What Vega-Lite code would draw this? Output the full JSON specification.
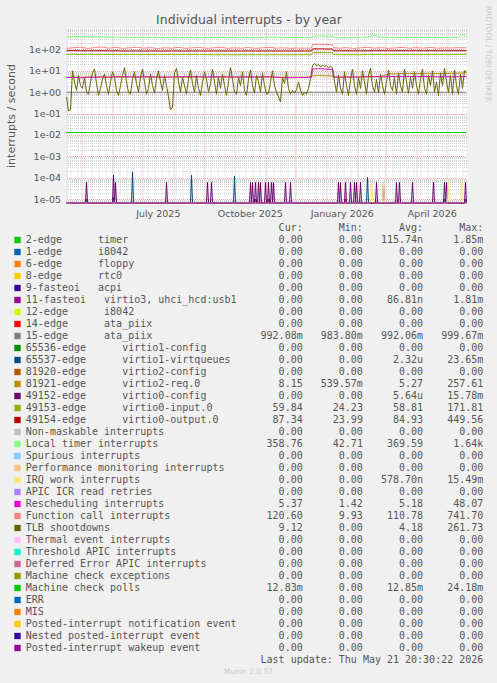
{
"$schema": "https://vega.github.io/schema/vega-lite/v6.json",
"background": "#f0f0f0",
"padding": {"left": 5.5, "top": 5, "right": 0, "bottom": 0},
"config": {"view": {"stroke": null}},
"spacing": 25,
"bounds": "flush",
"datasets": {
"tlb": [
{"t":"2025-04-16","v":0.6},{"t":"2025-04-18","v":0.13},{"t":"2025-04-20","v":0.15},{"t":"2025-04-22","v":10},{"t":"2025-04-24","v":3},{"t":"2025-04-26","v":1.2},{"t":"2025-04-28","v":6},{"t":"2025-04-30","v":2},
{"t":"2025-05-02","v":1.5},{"t":"2025-05-04","v":5},{"t":"2025-05-06","v":1},{"t":"2025-05-08","v":0.8},{"t":"2025-05-10","v":3},{"t":"2025-05-12","v":8},{"t":"2025-05-14","v":12},{"t":"2025-05-16","v":2.5},{"t":"2025-05-18","v":0.7},{"t":"2025-05-20","v":1.5},{"t":"2025-05-22","v":4},{"t":"2025-05-24","v":7},{"t":"2025-05-26","v":2},{"t":"2025-05-28","v":0.8},{"t":"2025-05-30","v":3},
{"t":"2025-06-01","v":9},{"t":"2025-06-03","v":5},{"t":"2025-06-05","v":1.2},{"t":"2025-06-07","v":0.7},{"t":"2025-06-09","v":2},{"t":"2025-06-11","v":6},{"t":"2025-06-13","v":14},{"t":"2025-06-15","v":3},{"t":"2025-06-17","v":1},{"t":"2025-06-19","v":0.8},{"t":"2025-06-21","v":4},{"t":"2025-06-23","v":9},{"t":"2025-06-25","v":2.5},{"t":"2025-06-27","v":1},{"t":"2025-06-29","v":5},
{"t":"2025-07-01","v":12},{"t":"2025-07-03","v":3},{"t":"2025-07-05","v":0.8},{"t":"2025-07-07","v":1.5},{"t":"2025-07-09","v":7},{"t":"2025-07-11","v":2},{"t":"2025-07-13","v":0.9},{"t":"2025-07-15","v":4},{"t":"2025-07-17","v":10},{"t":"2025-07-19","v":3},{"t":"2025-07-21","v":1.2},{"t":"2025-07-23","v":6},{"t":"2025-07-25","v":2},{"t":"2025-07-27","v":0.6},{"t":"2025-07-29","v":0.15},{"t":"2025-07-31","v":0.2},
{"t":"2025-08-02","v":8},{"t":"2025-08-04","v":13},{"t":"2025-08-06","v":3},{"t":"2025-08-08","v":1},{"t":"2025-08-10","v":5},{"t":"2025-08-12","v":2},{"t":"2025-08-14","v":0.8},{"t":"2025-08-16","v":4},{"t":"2025-08-18","v":11},{"t":"2025-08-20","v":2.5},{"t":"2025-08-22","v":1},{"t":"2025-08-24","v":6},{"t":"2025-08-26","v":1.5},{"t":"2025-08-28","v":0.7},{"t":"2025-08-30","v":3},
{"t":"2025-09-01","v":9},{"t":"2025-09-03","v":4},{"t":"2025-09-05","v":1},{"t":"2025-09-07","v":2.5},{"t":"2025-09-09","v":12},{"t":"2025-09-11","v":3},{"t":"2025-09-13","v":0.8},{"t":"2025-09-15","v":5},{"t":"2025-09-17","v":1.5},{"t":"2025-09-19","v":7},{"t":"2025-09-21","v":2},{"t":"2025-09-23","v":0.7},{"t":"2025-09-25","v":3},{"t":"2025-09-27","v":14},{"t":"2025-09-29","v":4},
{"t":"2025-10-01","v":1},{"t":"2025-10-03","v":0.8},{"t":"2025-10-05","v":5},{"t":"2025-10-07","v":2},{"t":"2025-10-09","v":9},{"t":"2025-10-11","v":1.2},{"t":"2025-10-13","v":0.7},{"t":"2025-10-15","v":4},{"t":"2025-10-17","v":11},{"t":"2025-10-19","v":2},{"t":"2025-10-21","v":0.9},{"t":"2025-10-23","v":6},{"t":"2025-10-25","v":3},{"t":"2025-10-27","v":1},{"t":"2025-10-29","v":8},{"t":"2025-10-31","v":2},
{"t":"2025-11-02","v":0.8},{"t":"2025-11-04","v":0.9},{"t":"2025-11-06","v":3},{"t":"2025-11-08","v":10},{"t":"2025-11-10","v":2},{"t":"2025-11-12","v":1},{"t":"2025-11-14","v":0.6},{"t":"2025-11-16","v":0.35},{"t":"2025-11-18","v":5},{"t":"2025-11-20","v":2.5},{"t":"2025-11-22","v":9},{"t":"2025-11-24","v":1.5},{"t":"2025-11-26","v":0.8},{"t":"2025-11-28","v":1.2},{"t":"2025-11-30","v":0.9},
{"t":"2025-12-02","v":1.3},{"t":"2025-12-04","v":3},{"t":"2025-12-06","v":1.2},{"t":"2025-12-08","v":0.7},{"t":"2025-12-10","v":1},{"t":"2025-12-12","v":0.8},{"t":"2025-12-14","v":1.5},{"t":"2025-12-16","v":4},{"t":"2025-12-18","v":18},{"t":"2025-12-20","v":22},{"t":"2025-12-22","v":17},{"t":"2025-12-24","v":20},{"t":"2025-12-26","v":15},{"t":"2025-12-28","v":18},{"t":"2025-12-30","v":16},
{"t":"2026-01-01","v":17},{"t":"2026-01-03","v":14},{"t":"2026-01-05","v":16},{"t":"2026-01-07","v":14},{"t":"2026-01-09","v":3},{"t":"2026-01-11","v":1},{"t":"2026-01-13","v":6},{"t":"2026-01-15","v":1.5},{"t":"2026-01-17","v":0.8},{"t":"2026-01-19","v":9},{"t":"2026-01-21","v":2},{"t":"2026-01-23","v":0.7},{"t":"2026-01-25","v":4},{"t":"2026-01-27","v":12},{"t":"2026-01-29","v":2},{"t":"2026-01-31","v":0.8},
{"t":"2026-02-02","v":5},{"t":"2026-02-04","v":1.5},{"t":"2026-02-06","v":10},{"t":"2026-02-08","v":3},{"t":"2026-02-10","v":0.8},{"t":"2026-02-12","v":6},{"t":"2026-02-14","v":13},{"t":"2026-02-16","v":2},{"t":"2026-02-18","v":1},{"t":"2026-02-20","v":4},{"t":"2026-02-22","v":0.9},{"t":"2026-02-24","v":7},{"t":"2026-02-26","v":2},{"t":"2026-02-28","v":0.8},
{"t":"2026-03-02","v":3},{"t":"2026-03-04","v":11},{"t":"2026-03-06","v":2},{"t":"2026-03-08","v":1.2},{"t":"2026-03-10","v":5},{"t":"2026-03-12","v":0.8},{"t":"2026-03-14","v":8},{"t":"2026-03-16","v":2},{"t":"2026-03-18","v":1},{"t":"2026-03-20","v":12},{"t":"2026-03-22","v":3},{"t":"2026-03-24","v":0.9},{"t":"2026-03-26","v":5},{"t":"2026-03-28","v":1.5},{"t":"2026-03-30","v":9},
{"t":"2026-04-01","v":2},{"t":"2026-04-03","v":0.8},{"t":"2026-04-05","v":4},{"t":"2026-04-07","v":12},{"t":"2026-04-09","v":1.5},{"t":"2026-04-11","v":0.8},{"t":"2026-04-13","v":6},{"t":"2026-04-15","v":2},{"t":"2026-04-17","v":10},{"t":"2026-04-19","v":1},{"t":"2026-04-21","v":3},{"t":"2026-04-23","v":0.7},{"t":"2026-04-25","v":8},{"t":"2026-04-27","v":2},{"t":"2026-04-29","v":13},
{"t":"2026-05-01","v":3},{"t":"2026-05-03","v":1},{"t":"2026-05-05","v":6},{"t":"2026-05-07","v":0.8},{"t":"2026-05-09","v":11},{"t":"2026-05-11","v":2},{"t":"2026-05-13","v":0.8},{"t":"2026-05-15","v":7},{"t":"2026-05-17","v":1.5},{"t":"2026-05-19","v":10},{"t":"2026-05-21","v":9}
],
"sm": [
{"t":"2025-04-16","loc":395,"cal":112,"out":86,"inp":58,"res":4.8,"req":5.0},
{"t":"2025-04-23","loc":398,"cal":120,"out":87,"inp":59,"res":4.9,"req":5.0},
{"t":"2025-04-30","loc":392,"cal":126,"out":86,"inp":58,"res":4.7,"req":5.0},
{"t":"2025-05-07","loc":396,"cal":110,"out":85,"inp":59,"res":4.9,"req":5.1},
{"t":"2025-05-14","loc":390,"cal":122,"out":86,"inp":58,"res":5.0,"req":5.0},
{"t":"2025-05-21","loc":394,"cal":130,"out":86,"inp":58,"res":5.1,"req":5.1},
{"t":"2025-05-28","loc":392,"cal":114,"out":85,"inp":58,"res":5.0,"req":5.0},
{"t":"2025-06-04","loc":372,"cal":124,"out":85,"inp":57,"res":5.2,"req":5.1},
{"t":"2025-06-11","loc":368,"cal":112,"out":84,"inp":57,"res":5.3,"req":5.0},
{"t":"2025-06-18","loc":366,"cal":118,"out":84,"inp":57,"res":5.2,"req":5.0},
{"t":"2025-06-25","loc":364,"cal":126,"out":84,"inp":57,"res":5.1,"req":5.1},
{"t":"2025-07-02","loc":368,"cal":114,"out":84,"inp":57,"res":5.3,"req":5.0},
{"t":"2025-07-09","loc":362,"cal":120,"out":84,"inp":57,"res":5.2,"req":5.0},
{"t":"2025-07-16","loc":366,"cal":110,"out":84,"inp":57,"res":5.1,"req":5.1},
{"t":"2025-07-23","loc":364,"cal":118,"out":84,"inp":57,"res":5.0,"req":5.0},
{"t":"2025-07-30","loc":362,"cal":114,"out":84,"inp":57,"res":5.1,"req":5.0},
{"t":"2025-08-06","loc":365,"cal":124,"out":84,"inp":57,"res":5.2,"req":5.1},
{"t":"2025-08-13","loc":360,"cal":112,"out":84,"inp":57,"res":5.3,"req":5.0},
{"t":"2025-08-20","loc":362,"cal":118,"out":84,"inp":57,"res":5.3,"req":5.0},
{"t":"2025-08-27","loc":364,"cal":122,"out":84,"inp":57,"res":5.2,"req":5.1},
{"t":"2025-09-03","loc":360,"cal":112,"out":84,"inp":57,"res":5.1,"req":5.0},
{"t":"2025-09-10","loc":358,"cal":118,"out":84,"inp":56,"res":5.2,"req":5.0},
{"t":"2025-09-17","loc":362,"cal":126,"out":84,"inp":56,"res":5.3,"req":5.1},
{"t":"2025-09-24","loc":360,"cal":112,"out":84,"inp":56,"res":5.2,"req":5.0},
{"t":"2025-10-01","loc":365,"cal":118,"out":84,"inp":56,"res":5.1,"req":5.0},
{"t":"2025-10-08","loc":360,"cal":114,"out":84,"inp":56,"res":5.2,"req":5.1},
{"t":"2025-10-15","loc":362,"cal":122,"out":84,"inp":56,"res":5.2,"req":5.0},
{"t":"2025-10-22","loc":365,"cal":112,"out":84,"inp":56,"res":5.1,"req":5.0},
{"t":"2025-10-29","loc":360,"cal":118,"out":84,"inp":56,"res":5.2,"req":5.0},
{"t":"2025-11-05","loc":375,"cal":124,"out":84,"inp":56,"res":5.3,"req":5.1},
{"t":"2025-11-12","loc":368,"cal":114,"out":84,"inp":56,"res":5.0,"req":5.0},
{"t":"2025-11-19","loc":362,"cal":118,"out":84,"inp":56,"res":4.8,"req":5.0},
{"t":"2025-11-26","loc":360,"cal":112,"out":84,"inp":56,"res":4.7,"req":5.0},
{"t":"2025-12-03","loc":358,"cal":116,"out":84,"inp":56,"res":4.8,"req":5.0},
{"t":"2025-12-10","loc":360,"cal":114,"out":84,"inp":56,"res":4.8,"req":5.0},
{"t":"2025-12-17","loc":362,"cal":116,"out":84,"inp":56,"res":5.0,"req":5.1},
{"t":"2025-12-18","loc":420,"cal":165,"out":105,"inp":70,"res":12,"req":5.8},
{"t":"2025-12-24","loc":425,"cal":172,"out":106,"inp":71,"res":12.5,"req":5.9},
{"t":"2025-12-31","loc":420,"cal":168,"out":105,"inp":70,"res":12,"req":5.8},
{"t":"2026-01-07","loc":418,"cal":165,"out":104,"inp":70,"res":11.5,"req":5.7},
{"t":"2026-01-08","loc":355,"cal":120,"out":86,"inp":57,"res":5.2,"req":5.0},
{"t":"2026-01-14","loc":350,"cal":114,"out":85,"inp":56,"res":5.0,"req":5.0},
{"t":"2026-01-21","loc":352,"cal":120,"out":85,"inp":56,"res":5.1,"req":5.0},
{"t":"2026-01-28","loc":355,"cal":112,"out":85,"inp":56,"res":5.0,"req":5.0},
{"t":"2026-02-04","loc":360,"cal":118,"out":85,"inp":56,"res":5.2,"req":5.1},
{"t":"2026-02-11","loc":380,"cal":124,"out":85,"inp":57,"res":5.3,"req":5.2},
{"t":"2026-02-18","loc":460,"cal":114,"out":86,"inp":57,"res":5.3,"req":5.3},
{"t":"2026-02-25","loc":370,"cal":120,"out":86,"inp":57,"res":5.2,"req":5.5},
{"t":"2026-03-04","loc":365,"cal":112,"out":86,"inp":57,"res":5.3,"req":7.0},
{"t":"2026-03-11","loc":360,"cal":118,"out":86,"inp":57,"res":5.4,"req":7.2},
{"t":"2026-03-18","loc":362,"cal":124,"out":86,"inp":57,"res":5.3,"req":7.4},
{"t":"2026-03-25","loc":360,"cal":114,"out":86,"inp":57,"res":5.4,"req":7.5},
{"t":"2026-04-01","loc":360,"cal":120,"out":86,"inp":57,"res":5.3,"req":7.3},
{"t":"2026-04-08","loc":362,"cal":115,"out":86,"inp":57,"res":5.4,"req":7.5},
{"t":"2026-04-15","loc":360,"cal":122,"out":86,"inp":57,"res":5.3,"req":7.6},
{"t":"2026-04-22","loc":358,"cal":114,"out":86,"inp":57,"res":5.2,"req":7.4},
{"t":"2026-04-29","loc":362,"cal":118,"out":86,"inp":57,"res":5.3,"req":7.5},
{"t":"2026-05-06","loc":365,"cal":116,"out":86,"inp":57,"res":5.2,"req":7.6},
{"t":"2026-05-13","loc":372,"cal":120,"out":86,"inp":58,"res":5.3,"req":7.8},
{"t":"2026-05-18","loc":500,"cal":118,"out":86,"inp":58,"res":5.3,"req":7.9},
{"t":"2026-05-21","loc":359,"cal":121,"out":87,"inp":60,"res":5.4,"req":8.15}
],
"flat": [
{"t":"2025-04-16","ata":0.992,"mcp":0.0128},
{"t":"2026-05-21","ata":0.992,"mcp":0.0128}
],
"spk": [
{"s":"cfg0","t":"2025-04-16","v":1e-6},{"s":"cfg0","t":"2025-05-05","v":1e-6},{"s":"cfg0","t":"2025-05-06","v":6.2e-5},{"s":"cfg0","t":"2025-05-07","v":1e-6},
{"s":"cfg0","t":"2025-06-01","v":1e-6},{"s":"cfg0","t":"2025-06-02","v":1.3e-4},{"s":"cfg0","t":"2025-06-03","v":1e-6},{"s":"cfg0","t":"2025-06-04","v":6e-5},{"s":"cfg0","t":"2025-06-05","v":1e-6},
{"s":"cfg0","t":"2025-07-24","v":1e-6},{"s":"cfg0","t":"2025-07-25","v":6e-5},{"s":"cfg0","t":"2025-07-26","v":1e-6},
{"s":"cfg0","t":"2025-09-03","v":1e-6},{"s":"cfg0","t":"2025-09-04","v":6e-5},{"s":"cfg0","t":"2025-09-05","v":1e-6},{"s":"cfg0","t":"2025-09-07","v":1e-6},{"s":"cfg0","t":"2025-09-08","v":6e-5},{"s":"cfg0","t":"2025-09-09","v":1e-6},
{"s":"cfg0","t":"2025-10-16","v":1e-6},{"s":"cfg0","t":"2025-10-17","v":6e-5},{"s":"cfg0","t":"2025-10-18","v":1e-6},{"s":"cfg0","t":"2025-10-19","v":6e-5},{"s":"cfg0","t":"2025-10-20","v":1e-6},{"s":"cfg0","t":"2025-10-21","v":1e-6},{"s":"cfg0","t":"2025-10-22","v":6e-5},{"s":"cfg0","t":"2025-10-23","v":1e-6},{"s":"cfg0","t":"2025-10-24","v":1e-6},{"s":"cfg0","t":"2025-10-25","v":6e-5},{"s":"cfg0","t":"2025-10-26","v":1e-6},{"s":"cfg0","t":"2025-10-27","v":6e-5},{"s":"cfg0","t":"2025-10-28","v":1e-6},
{"s":"cfg0","t":"2025-10-31","v":1e-6},{"s":"cfg0","t":"2025-11-01","v":6e-5},{"s":"cfg0","t":"2025-11-02","v":1e-6},{"s":"cfg0","t":"2025-11-03","v":1e-6},{"s":"cfg0","t":"2025-11-04","v":6e-5},{"s":"cfg0","t":"2025-11-05","v":1e-6},{"s":"cfg0","t":"2025-11-06","v":1e-6},{"s":"cfg0","t":"2025-11-07","v":6e-5},{"s":"cfg0","t":"2025-11-08","v":1e-6},{"s":"cfg0","t":"2025-11-09","v":6e-5},{"s":"cfg0","t":"2025-11-10","v":1e-6},
{"s":"cfg0","t":"2025-11-20","v":1e-6},{"s":"cfg0","t":"2025-11-21","v":6e-5},{"s":"cfg0","t":"2025-11-22","v":1e-6},{"s":"cfg0","t":"2025-11-25","v":1e-6},{"s":"cfg0","t":"2025-11-26","v":6e-5},{"s":"cfg0","t":"2025-11-27","v":1e-6},
{"s":"cfg0","t":"2026-01-12","v":1e-6},{"s":"cfg0","t":"2026-01-13","v":6e-5},{"s":"cfg0","t":"2026-01-14","v":1e-6},{"s":"cfg0","t":"2026-01-15","v":6e-5},{"s":"cfg0","t":"2026-01-16","v":1e-6},{"s":"cfg0","t":"2026-01-19","v":1e-6},{"s":"cfg0","t":"2026-01-20","v":6e-5},{"s":"cfg0","t":"2026-01-21","v":1e-6},{"s":"cfg0","t":"2026-01-24","v":1e-6},{"s":"cfg0","t":"2026-01-25","v":6e-5},{"s":"cfg0","t":"2026-01-26","v":1e-6},{"s":"cfg0","t":"2026-01-28","v":1e-6},{"s":"cfg0","t":"2026-01-29","v":6e-5},{"s":"cfg0","t":"2026-01-30","v":1e-6},{"s":"cfg0","t":"2026-01-31","v":6e-5},{"s":"cfg0","t":"2026-02-01","v":1e-6},
{"s":"cfg0","t":"2026-02-03","v":1e-6},{"s":"cfg0","t":"2026-02-04","v":6e-5},{"s":"cfg0","t":"2026-02-05","v":1e-6},{"s":"cfg0","t":"2026-02-19","v":1e-6},{"s":"cfg0","t":"2026-02-20","v":6e-5},{"s":"cfg0","t":"2026-02-21","v":1e-6},{"s":"cfg0","t":"2026-02-26","v":1e-6},{"s":"cfg0","t":"2026-02-27","v":6e-5},{"s":"cfg0","t":"2026-02-28","v":1e-6},
{"s":"cfg0","t":"2026-03-11","v":1e-6},{"s":"cfg0","t":"2026-03-12","v":6e-5},{"s":"cfg0","t":"2026-03-13","v":1e-6},{"s":"cfg0","t":"2026-03-14","v":1e-6},{"s":"cfg0","t":"2026-03-15","v":6e-5},{"s":"cfg0","t":"2026-03-16","v":1e-6},{"s":"cfg0","t":"2026-03-27","v":1e-6},{"s":"cfg0","t":"2026-03-28","v":6e-5},{"s":"cfg0","t":"2026-03-29","v":1e-6},
{"s":"cfg0","t":"2026-04-17","v":1e-6},{"s":"cfg0","t":"2026-04-18","v":6e-5},{"s":"cfg0","t":"2026-04-19","v":1e-6},{"s":"cfg0","t":"2026-04-28","v":1e-6},{"s":"cfg0","t":"2026-04-29","v":6e-5},{"s":"cfg0","t":"2026-04-30","v":1e-6},{"s":"cfg0","t":"2026-05-01","v":6e-5},{"s":"cfg0","t":"2026-05-02","v":1e-6},{"s":"cfg0","t":"2026-05-19","v":1e-6},{"s":"cfg0","t":"2026-05-20","v":6e-5},{"s":"cfg0","t":"2026-05-21","v":1e-6},
{"s":"vq1","t":"2025-04-16","v":1e-6},{"s":"vq1","t":"2025-05-05","v":1e-6},{"s":"vq1","t":"2025-05-06","v":1e-5},{"s":"vq1","t":"2025-05-07","v":1e-6},{"s":"vq1","t":"2025-06-01","v":1e-6},{"s":"vq1","t":"2025-06-02","v":1.2e-5},{"s":"vq1","t":"2025-06-03","v":1e-6},{"s":"vq1","t":"2025-06-20","v":1e-6},{"s":"vq1","t":"2025-06-21","v":1.85e-4},{"s":"vq1","t":"2025-06-22","v":1e-6},
{"s":"vq1","t":"2025-08-18","v":1e-6},{"s":"vq1","t":"2025-08-19","v":1.3e-4},{"s":"vq1","t":"2025-08-20","v":1e-6},{"s":"vq1","t":"2025-09-30","v":1e-6},{"s":"vq1","t":"2025-10-01","v":1.2e-4},{"s":"vq1","t":"2025-10-02","v":1e-6},{"s":"vq1","t":"2025-10-21","v":1e-6},{"s":"vq1","t":"2025-10-22","v":1e-5},{"s":"vq1","t":"2025-10-23","v":1e-6},{"s":"vq1","t":"2025-11-03","v":1e-6},{"s":"vq1","t":"2025-11-04","v":1e-5},{"s":"vq1","t":"2025-11-05","v":1e-6},
{"s":"vq1","t":"2026-01-19","v":1e-6},{"s":"vq1","t":"2026-01-20","v":1e-5},{"s":"vq1","t":"2026-01-21","v":1e-6},{"s":"vq1","t":"2026-02-10","v":1e-6},{"s":"vq1","t":"2026-02-11","v":1.05e-4},{"s":"vq1","t":"2026-02-12","v":1e-6},{"s":"vq1","t":"2026-04-28","v":1e-6},{"s":"vq1","t":"2026-04-29","v":1e-5},{"s":"vq1","t":"2026-04-30","v":1e-6},{"s":"vq1","t":"2026-05-19","v":1e-6},{"s":"vq1","t":"2026-05-20","v":1e-5},{"s":"vq1","t":"2026-05-21","v":1e-6},
{"s":"iwi","t":"2025-04-16","v":1e-6},{"s":"iwi","t":"2026-02-14","v":1e-6},{"s":"iwi","t":"2026-02-15","v":6.5e-5},{"s":"iwi","t":"2026-02-16","v":1e-6},{"s":"iwi","t":"2026-02-26","v":1e-6},{"s":"iwi","t":"2026-02-27","v":6.5e-5},{"s":"iwi","t":"2026-02-28","v":1e-6},{"s":"iwi","t":"2026-05-02","v":1e-6},{"s":"iwi","t":"2026-05-03","v":6.5e-5},{"s":"iwi","t":"2026-05-04","v":1e-6},{"s":"iwi","t":"2026-05-15","v":1e-6},{"s":"iwi","t":"2026-05-16","v":6.5e-5},{"s":"iwi","t":"2026-05-17","v":1e-6},{"s":"iwi","t":"2026-05-21","v":1e-6},
{"s":"piw","t":"2025-04-16","v":1e-6},{"s":"piw","t":"2026-05-21","v":1e-6}
],
"leg": [
{"i":0,"n":"","cur":"Cur:\u00a0\u00a0","min":"Min:\u00a0\u00a0","avg":"Avg:\u00a0\u00a0","max":"Max:\u00a0\u00a0"},
{"i":1,"n":"2-edge\u00a0\u00a0\u00a0\u00a0\u00a0\u00a0timer","cur":"0.00\u00a0","min":"0.00\u00a0","avg":"115.74n","max":"1.85m"},
{"i":2,"n":"1-edge\u00a0\u00a0\u00a0\u00a0\u00a0\u00a0i8042","cur":"0.00\u00a0","min":"0.00\u00a0","avg":"0.00\u00a0","max":"0.00\u00a0"},
{"i":3,"n":"6-edge\u00a0\u00a0\u00a0\u00a0\u00a0\u00a0floppy","cur":"0.00\u00a0","min":"0.00\u00a0","avg":"0.00\u00a0","max":"0.00\u00a0"},
{"i":4,"n":"8-edge\u00a0\u00a0\u00a0\u00a0\u00a0\u00a0rtc0","cur":"0.00\u00a0","min":"0.00\u00a0","avg":"0.00\u00a0","max":"0.00\u00a0"},
{"i":5,"n":"9-fasteoi\u00a0\u00a0\u00a0acpi","cur":"0.00\u00a0","min":"0.00\u00a0","avg":"0.00\u00a0","max":"0.00\u00a0"},
{"i":6,"n":"11-fasteoi\u00a0\u00a0\u00a0virtio3, uhci_hcd:usb1","cur":"0.00\u00a0","min":"0.00\u00a0","avg":"86.81n","max":"1.81m"},
{"i":7,"n":"12-edge\u00a0\u00a0\u00a0\u00a0\u00a0\u00a0i8042","cur":"0.00\u00a0","min":"0.00\u00a0","avg":"0.00\u00a0","max":"0.00\u00a0"},
{"i":8,"n":"14-edge\u00a0\u00a0\u00a0\u00a0\u00a0\u00a0ata_piix","cur":"0.00\u00a0","min":"0.00\u00a0","avg":"0.00\u00a0","max":"0.00\u00a0"},
{"i":9,"n":"15-edge\u00a0\u00a0\u00a0\u00a0\u00a0\u00a0ata_piix","cur":"992.08m","min":"983.80m","avg":"992.06m","max":"999.67m"},
{"i":10,"n":"65536-edge\u00a0\u00a0\u00a0\u00a0\u00a0\u00a0virtio1-config","cur":"0.00\u00a0","min":"0.00\u00a0","avg":"0.00\u00a0","max":"0.00\u00a0"},
{"i":11,"n":"65537-edge\u00a0\u00a0\u00a0\u00a0\u00a0\u00a0virtio1-virtqueues","cur":"0.00\u00a0","min":"0.00\u00a0","avg":"2.32u","max":"23.65m"},
{"i":12,"n":"81920-edge\u00a0\u00a0\u00a0\u00a0\u00a0\u00a0virtio2-config","cur":"0.00\u00a0","min":"0.00\u00a0","avg":"0.00\u00a0","max":"0.00\u00a0"},
{"i":13,"n":"81921-edge\u00a0\u00a0\u00a0\u00a0\u00a0\u00a0virtio2-req.0","cur":"8.15\u00a0","min":"539.57m","avg":"5.27\u00a0","max":"257.61\u00a0"},
{"i":14,"n":"49152-edge\u00a0\u00a0\u00a0\u00a0\u00a0\u00a0virtio0-config","cur":"0.00\u00a0","min":"0.00\u00a0","avg":"5.64u","max":"15.78m"},
{"i":15,"n":"49153-edge\u00a0\u00a0\u00a0\u00a0\u00a0\u00a0virtio0-input.0","cur":"59.84\u00a0","min":"24.23\u00a0","avg":"58.81\u00a0","max":"171.81\u00a0"},
{"i":16,"n":"49154-edge\u00a0\u00a0\u00a0\u00a0\u00a0\u00a0virtio0-output.0","cur":"87.34\u00a0","min":"23.99\u00a0","avg":"84.93\u00a0","max":"449.56\u00a0"},
{"i":17,"n":"Non-maskable interrupts","cur":"0.00\u00a0","min":"0.00\u00a0","avg":"0.00\u00a0","max":"0.00\u00a0"},
{"i":18,"n":"Local timer interrupts","cur":"358.76\u00a0","min":"42.71\u00a0","avg":"369.59\u00a0","max":"1.64k"},
{"i":19,"n":"Spurious interrupts","cur":"0.00\u00a0","min":"0.00\u00a0","avg":"0.00\u00a0","max":"0.00\u00a0"},
{"i":20,"n":"Performance monitoring interrupts","cur":"0.00\u00a0","min":"0.00\u00a0","avg":"0.00\u00a0","max":"0.00\u00a0"},
{"i":21,"n":"IRQ work interrupts","cur":"0.00\u00a0","min":"0.00\u00a0","avg":"578.70n","max":"15.49m"},
{"i":22,"n":"APIC ICR read retries","cur":"0.00\u00a0","min":"0.00\u00a0","avg":"0.00\u00a0","max":"0.00\u00a0"},
{"i":23,"n":"Rescheduling interrupts","cur":"5.37\u00a0","min":"1.42\u00a0","avg":"5.18\u00a0","max":"48.07\u00a0"},
{"i":24,"n":"Function call interrupts","cur":"120.60\u00a0","min":"9.93\u00a0","avg":"110.78\u00a0","max":"741.70\u00a0"},
{"i":25,"n":"TLB shootdowns","cur":"9.12\u00a0","min":"0.00\u00a0","avg":"4.18\u00a0","max":"261.73\u00a0"},
{"i":26,"n":"Thermal event interrupts","cur":"0.00\u00a0","min":"0.00\u00a0","avg":"0.00\u00a0","max":"0.00\u00a0"},
{"i":27,"n":"Threshold APIC interrupts","cur":"0.00\u00a0","min":"0.00\u00a0","avg":"0.00\u00a0","max":"0.00\u00a0"},
{"i":28,"n":"Deferred Error APIC interrupts","cur":"0.00\u00a0","min":"0.00\u00a0","avg":"0.00\u00a0","max":"0.00\u00a0"},
{"i":29,"n":"Machine check exceptions","cur":"0.00\u00a0","min":"0.00\u00a0","avg":"0.00\u00a0","max":"0.00\u00a0"},
{"i":30,"n":"Machine check polls","cur":"12.83m","min":"0.00\u00a0","avg":"12.85m","max":"24.18m"},
{"i":31,"n":"ERR","cur":"0.00\u00a0","min":"0.00\u00a0","avg":"0.00\u00a0","max":"0.00\u00a0"},
{"i":32,"n":"MIS","cur":"0.00\u00a0","min":"0.00\u00a0","avg":"0.00\u00a0","max":"0.00\u00a0"},
{"i":33,"n":"Posted-interrupt notification event","cur":"0.00\u00a0","min":"0.00\u00a0","avg":"0.00\u00a0","max":"0.00\u00a0"},
{"i":34,"n":"Nested posted-interrupt event","cur":"0.00\u00a0","min":"0.00\u00a0","avg":"0.00\u00a0","max":"0.00\u00a0"},
{"i":35,"n":"Posted-interrupt wakeup event","cur":"0.00\u00a0","min":"0.00\u00a0","avg":"0.00\u00a0","max":"0.00\u00a0"}
]
},
"vconcat": [
{
"width": 400,
"height": 175,
"view": {"fill": "#ffffff", "stroke": null},
"layer": [
{"layer": [
{"data": {"name": "spk"}, "transform": [{"filter": "datum.s == 'vq1'"}], "mark": {"type": "line", "color": "#00487D", "strokeWidth": 1},
 "encoding": {
  "x": {"field": "t", "type": "temporal", "scale": {"type": "utc", "domain": [{"year": 2025, "month": 4, "date": 16, "utc": true}, {"year": 2026, "month": 5, "date": 21, "utc": true}]},
   "axis": {"orient": "bottom", "tickCount": {"interval": "month", "step": 1}, "grid": true, "gridColor": "#f0a8a8", "gridDash": [1, 1], "gridWidth": 1, "ticks": false, "tickSize": 0, "domain": true, "domainColor": "#CFD6F8", "domainWidth": 1,
    "labelExpr": "utcdate(datum.value) == 1 && utcmonth(datum.value) % 3 == 0 ? utcFormat(datum.value, '%B %Y') : ''",
    "labelOffset": 15.3, "labelPadding": 5.4, "labelFont": "DejaVu Sans", "labelFontSize": 9.5, "labelColor": "#555555", "labelOverlap": false, "labelFlush": false, "labelBound": false, "title": null}},
  "y": {"field": "v", "type": "quantitative", "scale": {"type": "log", "domain": [6.5e-6, 1000], "nice": false, "zero": false, "clamp": true},
   "axis": {"orient": "left", "values": [1e-5, 1e-4, 0.001, 0.01, 0.1, 1, 10, 100], "grid": true, "gridColor": "#f0a8a8", "gridDash": [1, 1], "gridWidth": 1, "ticks": false, "tickSize": 0, "domain": true, "domainColor": "#CFD6F8", "domainWidth": 1,
    "labelExpr": "'1e' + (round(log(datum.value)/LN10) < 0 ? '-' : '+') + (abs(round(log(datum.value)/LN10)) < 10 ? '0' : '') + abs(round(log(datum.value)/LN10))",
    "labelPadding": 6, "labelFont": "DejaVu Sans", "labelFontSize": 9.5, "labelColor": "#555555", "labelOverlap": false, "labelFlush": false, "labelBound": false,
    "title": "interrupts / second", "titleX": -55, "titleY": 87.5, "titleAngle": 270, "titleAlign": "center", "titleBaseline": "middle", "titleFont": "DejaVu Sans", "titleFontSize": 11, "titleFontWeight": "normal", "titleColor": "#555555"}}
 }},
{"data": {"name": "spk"}, "transform": [{"filter": "datum.s == 'cfg0'"}], "mark": {"type": "line", "color": "#6B006B", "strokeWidth": 1},
 "encoding": {"x": {"field": "t", "type": "temporal"}, "y": {"field": "v", "type": "quantitative"}}},
{"data": {"name": "flat"}, "mark": {"type": "line", "color": "#808080", "strokeWidth": 1},
 "encoding": {"x": {"field": "t", "type": "temporal"}, "y": {"field": "ata", "type": "quantitative"}}},
{"data": {"name": "sm"}, "mark": {"type": "line", "color": "#B38F00", "strokeWidth": 1},
 "encoding": {"x": {"field": "t", "type": "temporal"}, "y": {"field": "req", "type": "quantitative"}}},
{"data": {"name": "sm"}, "mark": {"type": "line", "color": "#8FB300", "strokeWidth": 1},
 "encoding": {"x": {"field": "t", "type": "temporal"}, "y": {"field": "inp", "type": "quantitative"}}},
{"data": {"name": "sm"}, "mark": {"type": "line", "color": "#B30000", "strokeWidth": 1},
 "encoding": {"x": {"field": "t", "type": "temporal"}, "y": {"field": "out", "type": "quantitative"}}},
{"data": {"name": "sm"}, "mark": {"type": "line", "color": "#80FF80", "strokeWidth": 1},
 "encoding": {"x": {"field": "t", "type": "temporal"}, "y": {"field": "loc", "type": "quantitative"}}},
{"data": {"name": "spk"}, "transform": [{"filter": "datum.s == 'iwi'"}], "mark": {"type": "line", "color": "#FFE680", "strokeWidth": 1},
 "encoding": {"x": {"field": "t", "type": "temporal"}, "y": {"field": "v", "type": "quantitative"}}},
{"data": {"name": "sm"}, "mark": {"type": "line", "color": "#EE00CC", "strokeWidth": 1},
 "encoding": {"x": {"field": "t", "type": "temporal"}, "y": {"field": "res", "type": "quantitative"}}},
{"data": {"name": "sm"}, "mark": {"type": "line", "color": "#FF8080", "strokeWidth": 1},
 "encoding": {"x": {"field": "t", "type": "temporal"}, "y": {"field": "cal", "type": "quantitative"}}},
{"data": {"name": "tlb"}, "mark": {"type": "line", "color": "#666600", "strokeWidth": 1},
 "encoding": {"x": {"field": "t", "type": "temporal"}, "y": {"field": "v", "type": "quantitative"}}},
{"data": {"name": "spk"}, "transform": [{"filter": "datum.s == 'piw'"}], "mark": {"type": "line", "color": "#990099", "strokeWidth": 1},
 "encoding": {"x": {"field": "t", "type": "temporal"}, "y": {"field": "v", "type": "quantitative"}}}
]},
{"data": {"name": "flat"}, "mark": {"type": "line", "color": "#00CC00", "strokeWidth": 1},
 "encoding": {
  "x": {"field": "t", "type": "temporal", "scale": {"type": "utc", "domain": [{"year": 2025, "month": 4, "date": 16, "utc": true}, {"year": 2026, "month": 5, "date": 21, "utc": true}]},
   "axis": {"orient": "top", "tickCount": {"interval": "week", "step": 1}, "grid": true, "gridColor": "#d4d4d4", "gridDash": [1, 1], "gridWidth": 1, "ticks": false, "labels": false, "domain": false,
    "title": "Individual interrupts - by year", "titleX": 182, "titleY": -4.7, "titleAngle": 0, "titleAlign": "center", "titleBaseline": "alphabetic", "titleFont": "DejaVu Sans", "titleFontSize": 12.5, "titleFontWeight": "normal", "titleColor": "#555555"}},
  "y": {"field": "mcp", "type": "quantitative", "scale": {"type": "log", "domain": [6.5e-6, 1000], "nice": false, "zero": false, "clamp": true},
   "axis": {"orient": "right", "values": [7e-6, 8e-6, 9e-6, 2e-5, 3e-5, 4e-5, 5e-5, 6e-5, 7e-5, 8e-5, 9e-5, 2e-4, 3e-4, 4e-4, 5e-4, 6e-4, 7e-4, 8e-4, 9e-4, 0.002, 0.003, 0.004, 0.005, 0.006, 0.007, 0.008, 0.009, 0.02, 0.03, 0.04, 0.05, 0.06, 0.07, 0.08, 0.09, 0.2, 0.3, 0.4, 0.5, 0.6, 0.7, 0.8, 0.9, 2, 3, 4, 5, 6, 7, 8, 9, 20, 30, 40, 50, 60, 70, 80, 90, 200, 300, 400, 500, 600, 700, 800, 900],
    "grid": true, "gridColor": "#d4d4d4", "gridDash": [1, 1], "gridWidth": 1, "ticks": false, "labels": false, "domain": false,
    "title": "RRDTOOL / TOBI OETIKER", "titleX": 21, "titleY": 25.5, "titleAngle": 90, "titleAlign": "center", "titleBaseline": "middle", "titleFont": "DejaVu Sans", "titleFontSize": 7.5, "titleFontWeight": "normal", "titleColor": "#c8c8c8"}}
 }}
],
"resolve": {"axis": {"x": "independent", "y": "independent"}}
},
{
"width": 431,
"height": 455,
"view": {"stroke": null},
"layer": [
{"data": {"name": "leg"}, "transform": [{"filter": "datum.i > 0"}], "mark": {"type": "square", "size": 40, "filled": true, "opacity": 1},
 "encoding": {
  "x": {"datum": -1.38, "type": "quantitative", "scale": {"domain": [0, 76], "range": [-40.7, 416.8], "nice": false, "zero": false}, "axis": null},
  "y": {"field": "i", "type": "quantitative", "scale": {"domain": [0, 37], "range": [0, 444], "nice": false, "zero": false}, "axis": null},
  "color": {"field": "i", "type": "ordinal", "legend": null, "scale": {"domain": [1,2,3,4,5,6,7,8,9,10,11,12,13,14,15,16,17,18,19,20,21,22,23,24,25,26,27,28,29,30,31,32,33,34,35],
   "range": ["#00CC00","#0066B3","#FF8000","#FFCC00","#330099","#990099","#CCFF00","#FF0000","#808080","#008F00","#00487D","#B35A00","#B38F00","#6B006B","#8FB300","#B30000","#BEBEBE","#80FF80","#80C9FF","#FFC080","#FFE680","#AA80FF","#EE00CC","#FF8080","#666600","#FFBFFF","#00FFCC","#CC6699","#999900","#00CC00","#0066B3","#FF8000","#FFCC00","#330099","#990099"]}}
 }},
{"data": {"name": "leg"}, "mark": {"type": "text", "align": "left", "baseline": "middle", "font": "DejaVu Sans Mono", "fontSize": 10, "color": "#555555"},
 "encoding": {"x": {"datum": 0, "type": "quantitative", "axis": null}, "y": {"field": "i", "type": "quantitative", "axis": null}, "text": {"field": "n"}}},
{"data": {"name": "leg"}, "mark": {"type": "text", "align": "right", "baseline": "middle", "font": "DejaVu Sans Mono", "fontSize": 10, "color": "#555555"},
 "encoding": {"x": {"datum": 46, "type": "quantitative", "axis": null}, "y": {"field": "i", "type": "quantitative", "axis": null}, "text": {"field": "cur"}}},
{"data": {"name": "leg"}, "mark": {"type": "text", "align": "right", "baseline": "middle", "font": "DejaVu Sans Mono", "fontSize": 10, "color": "#555555"},
 "encoding": {"x": {"datum": 56, "type": "quantitative", "axis": null}, "y": {"field": "i", "type": "quantitative", "axis": null}, "text": {"field": "min"}}},
{"data": {"name": "leg"}, "mark": {"type": "text", "align": "right", "baseline": "middle", "font": "DejaVu Sans Mono", "fontSize": 10, "color": "#555555"},
 "encoding": {"x": {"datum": 66, "type": "quantitative", "axis": null}, "y": {"field": "i", "type": "quantitative", "axis": null}, "text": {"field": "avg"}}},
{"data": {"name": "leg"}, "mark": {"type": "text", "align": "right", "baseline": "middle", "font": "DejaVu Sans Mono", "fontSize": 10, "color": "#555555"},
 "encoding": {"x": {"datum": 76, "type": "quantitative", "axis": null}, "y": {"field": "i", "type": "quantitative", "axis": null}, "text": {"field": "max"}}},
{"data": {"values": [{"i": 36, "txt": "Last update: Thu May 21 20:30:22 2026"}]}, "mark": {"type": "text", "align": "right", "baseline": "middle", "font": "DejaVu Sans Mono", "fontSize": 10, "color": "#555555"},
 "encoding": {"x": {"datum": 76, "type": "quantitative", "axis": null}, "y": {"field": "i", "type": "quantitative", "axis": null}, "text": {"field": "txt"}}},
{"data": {"values": [{"i": 37, "txt": "Munin 2.0.57"}]}, "mark": {"type": "text", "align": "center", "baseline": "middle", "font": "DejaVu Sans", "fontSize": 7.5, "color": "#c8c8c8"},
 "encoding": {"x": {"datum": 37, "type": "quantitative", "axis": null}, "y": {"field": "i", "type": "quantitative", "axis": null}, "text": {"field": "txt"}}}
]
}
]
}
